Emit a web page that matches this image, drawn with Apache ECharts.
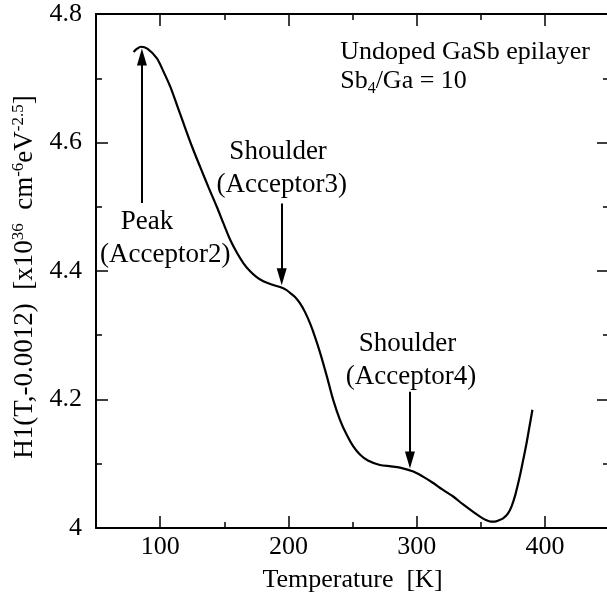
<!DOCTYPE html>
<html>
<head>
<meta charset="utf-8">
<title>H1 spectrum GaSb</title>
<script src="https://cdn.jsdelivr.net/npm/echarts@6/dist/echarts.min.js"></script>
<style>
  html, body { margin: 0; padding: 0; background: #fff; }
  #chart { width: 607px; height: 599px; }
</style>
</head>
<body>
<div id="chart"></div>
<script>
// temperature [K] and H1 values
var temps = [79.3, 82, 85, 90, 97.5, 102, 107.9, 113, 118.2, 125, 131.2, 138, 144.2, 150, 155, 160,
  165, 170, 175, 180.5, 187, 193.5, 198, 201.3, 205, 209, 213, 217, 221, 225, 230, 235, 240.3,
  245.5, 250.6, 256, 262, 271.4, 280, 287, 297.4, 305, 312.9, 320, 328.5, 336, 344.1, 350, 354.5,
  358, 361, 364, 367.4, 371, 373.9, 377, 380.4, 383, 385.7, 388, 390.3];
var h1 = [4.741, 4.746, 4.749, 4.746, 4.731, 4.713, 4.687, 4.659, 4.630, 4.593, 4.562, 4.529, 4.500, 4.471, 4.447, 4.428,
  4.412, 4.400, 4.391, 4.384, 4.379, 4.375, 4.371, 4.366, 4.360, 4.350, 4.336, 4.318, 4.296, 4.271, 4.236, 4.199, 4.168,
  4.145, 4.127, 4.114, 4.105, 4.098, 4.096, 4.094, 4.088, 4.080, 4.070, 4.060, 4.049, 4.037, 4.025, 4.017, 4.012,
  4.010, 4.010, 4.012, 4.015, 4.022, 4.033, 4.052, 4.080, 4.105, 4.132, 4.158, 4.184];

// axis ticks
var xMajor = [100, 200, 300, 400];
var xMinor = [150, 250, 350];

// arrows: [T, from, to]
var arrows = [
  [85.8, 4.506, 4.733],
  [194.8, 4.505, 4.391],
  [294.8, 4.212, 4.106]
];

// annotation texts: [text, T, value, align]
var notes = [
  ['Peak', 89.7, 4.477, 'center'],
  ['(Acceptor2)', 104, 4.425, 'center'],
  ['Shoulder', 192, 4.586, 'center'],
  ['(Acceptor3)', 194.9, 4.534, 'center'],
  ['Shoulder', 292.8, 4.287, 'center'],
  ['(Acceptor4)', 295.6, 4.235, 'center'],
  ['Undoped GaSb epilayer', 240, 4.741, 'left'],
  ['{n|Sb}{sub|4}{n|/Ga = 10}', 240, 4.695, 'left']
];

var FONT = 'Liberation Serif';
var myChart = echarts.init(document.getElementById('chart'), null, { renderer: 'canvas' });

var lineBlack = { color: '#000', width: 2 };

function xAxisOf(pos, ticks, len, withLabel, withLine, withName) {
  return {
    type: 'value',
    position: pos,
    min: 50,
    max: 450,
    gridIndex: 0,
    name: withName ? 'Temperature  [K]' : '',
    nameLocation: 'middle',
    nameGap: 39,
    nameTextStyle: { fontFamily: FONT, fontSize: 26, color: '#000' },
    axisLine: { show: withLine, onZero: false, lineStyle: lineBlack },
    axisTick: { show: true, inside: true, length: len, customValues: ticks, lineStyle: { color: '#000', width: 1.5 } },
    axisLabel: { show: withLabel, customValues: xMajor, margin: 6, fontFamily: FONT, fontSize: 26, color: '#000' },
    splitLine: { show: false }
  };
}

function yAxisOf(pos, withLabel, withName) {
  return {
    type: 'value',
    position: pos,
    min: 4,
    max: 4.8,
    interval: 0.2,
    name: withName ? '{b|H1(T,-0.0012)  [x10}{s|36}{b|  cm}{s|-6}{b|eV}{s|-2.5}{b|]}' : '',
    nameLocation: 'middle',
    nameGap: 56,
    nameRotate: 90,
    nameTextStyle: {
      padding: [0, 12, 0, 0],
      rich: {
        b: { fontFamily: FONT, fontSize: 27, color: '#000', lineHeight: 30 },
        s: { fontFamily: FONT, fontSize: 17, color: '#000', lineHeight: 14, verticalAlign: 'top' }
      }
    },
    axisLine: { show: true, onZero: false, lineStyle: lineBlack },
    axisTick: { show: true, inside: true, length: 12, lineStyle: { color: '#000', width: 1.5 } },
    minorTick: { show: true, splitNumber: 2, length: 6, lineStyle: { color: '#000', width: 1.5 } },
    axisLabel: { show: withLabel, margin: 14, fontFamily: FONT, fontSize: 26, color: '#000' },
    splitLine: { show: false },
    minorSplitLine: { show: false }
  };
}

var option = {
  backgroundColor: '#fff',
  animation: false,
  grid: {
    left: 96,
    top: 14,
    right: -2,
    bottom: 71,
    containLabel: false,
    outerBoundsMode: 'none'
  },
  xAxis: [
    xAxisOf('bottom', xMajor, 12, true, true, true),
    xAxisOf('bottom', xMinor, 6, false, false, false),
    xAxisOf('top', xMajor, 12, false, true, false),
    xAxisOf('top', xMinor, 6, false, false, false)
  ],
  yAxis: [
    yAxisOf('left', true, true),
    yAxisOf('right', false, false)
  ],
  series: [
    {
      name: 'H1',
      type: 'line',
      xAxisIndex: 0,
      yAxisIndex: 0,
      data: temps.map(function (t, i) { return [t, h1[i]]; }),
      smooth: 0.3,
      showSymbol: false,
      lineStyle: { color: '#000', width: 2.2 },
      markLine: {
        silent: true,
        symbol: ['none', 'triangle'],
        symbolSize: [10, 17],
        lineStyle: { color: '#000', width: 2, type: 'solid' },
        label: { show: false },
        data: arrows.map(function (a) {
          return [{ coord: [a[0], a[1]] }, { coord: [a[0], a[2]] }];
        })
      },
      markPoint: {
        silent: true,
        symbol: 'circle',
        symbolSize: 1,
        itemStyle: { color: 'rgba(0,0,0,0)' },
        data: notes.map(function (n) {
          return {
            coord: [n[1], n[2]],
            label: {
              show: true,
              formatter: n[0],
              position: n[3] === 'left' ? 'right' : 'inside',
              distance: 0,
              fontFamily: FONT,
              fontSize: n[3] === 'left' ? 26 : 27,
              color: '#000',
              rich: {
                n: { fontFamily: FONT, fontSize: 26, color: '#000', lineHeight: 30 },
                sub: { fontFamily: FONT, fontSize: 16, color: '#000', lineHeight: 12, verticalAlign: 'bottom' }
              }
            }
          };
        })
      }
    }
  ]
};

myChart.setOption(option, true);
window.addEventListener('resize', function () {
  myChart.resize();
});
</script>
</body>
</html>
